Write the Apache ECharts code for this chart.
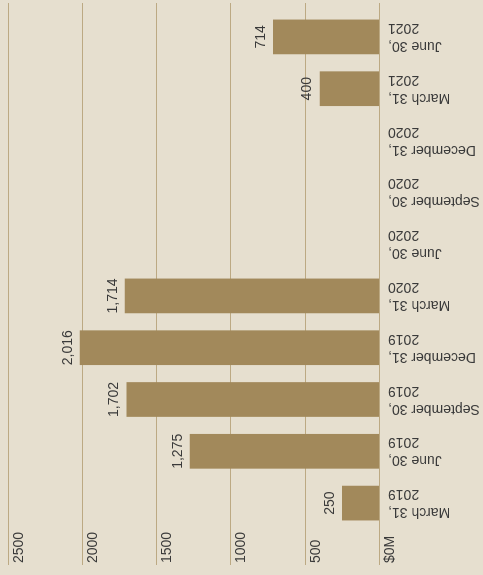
<!DOCTYPE html>
<html>
<head>
<meta charset="utf-8">
<script src="https://cdn.jsdelivr.net/npm/echarts@6/dist/echarts.min.js"></script>
<style>
  html, body { margin: 0; padding: 0; background: #e6dfcf; overflow: hidden; }
  body { width: 483px; height: 575px; position: relative; }
  /* the column chart is laid out 575x483 and turned a quarter turn counter-clockwise */
  #chart {
    position: absolute; left: 0; top: 0;
    width: 575px; height: 483px;
    transform-origin: 0 0;
    transform: translate(0, 575px) rotate(-90deg);
  }
</style>
</head>
<body>
<div id="chart"></div>
<script>
const quarters = [
  'March 31,\n2019', 'June 30,\n2019', 'September 30,\n2019', 'December 31,\n2019',
  'March 31,\n2020', 'June 30,\n2020', 'September 30,\n2020', 'December 31,\n2020',
  'March 31,\n2021', 'June 30,\n2021'
];
const amounts = [250, 1275, 1702, 2016, 1714, null, null, null, 400, 714];
const axisMax = 2500;
const axisStep = 500;

const FONT = 'Liberation Sans, Arial, Helvetica, sans-serif';
const TEXT = '#3a3a3a';

const chart = echarts.init(document.getElementById('chart'), null, { renderer: 'canvas' });
chart.setOption({
  backgroundColor: '#e6dfcf',
  animation: false,
  grid: [
    // full-width grid carrying the value gridlines and their labels
    { left: 10, right: 3, top: 8, bottom: 104 },
    // inner grid holding the quarterly columns
    { left: 46, right: 11, top: 8, bottom: 104 }
  ],
  xAxis: [
    { gridIndex: 0, type: 'value', show: false },
    {
      gridIndex: 1, type: 'category', data: quarters,
      axisLine: { show: false }, axisTick: { show: false },
      axisLabel: {
        rotate: 90, margin: 9, interval: 0,
        fontFamily: FONT, fontSize: 14, lineHeight: 18, color: TEXT
      }
    }
  ],
  yAxis: [
    {
      gridIndex: 0, type: 'value', min: 0, max: axisMax, interval: axisStep,
      axisLine: { show: false }, axisTick: { show: false },
      splitLine: { show: true, lineStyle: { color: '#bca983', width: 1 } },
      axisLabel: {
        inside: true, margin: 2, align: 'left', verticalAlign: 'top',
        padding: [4, 0, 0, 0],
        fontFamily: FONT, fontSize: 14, color: TEXT,
        formatter: v => v === 0 ? '$0M' : String(v)
      }
    },
    {
      gridIndex: 1, type: 'value', min: 0, max: axisMax, interval: axisStep,
      show: false, splitLine: { show: false }
    }
  ],
  series: [{
    type: 'bar',
    xAxisIndex: 1, yAxisIndex: 1,
    data: amounts,
    barCategoryGap: '33%',
    itemStyle: { color: '#a2895b' },
    label: {
      show: true, position: 'top', distance: 5,
      fontFamily: FONT, fontSize: 14, color: TEXT,
      formatter: p => p.value == null ? '' : Number(p.value).toLocaleString('en-US')
    }
  }]
});
</script>
</body>
</html>
